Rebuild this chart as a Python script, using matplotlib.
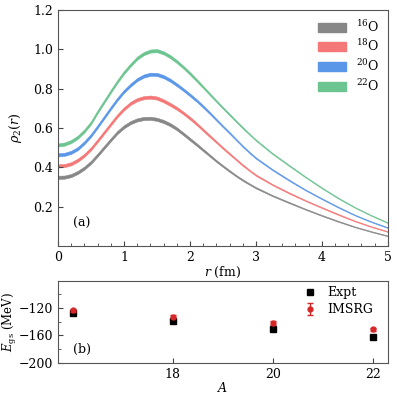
import numpy as np
import matplotlib.pyplot as plt
from matplotlib.patches import Patch
from matplotlib.ticker import MultipleLocator

plt.rcParams['font.family'] = ['DejaVu Serif']
plt.rcParams['mathtext.fontset'] = 'dejavuserif'

# two-body densities rho_2(r)
r = [0.0, 0.1, 0.2, 0.3, 0.4, 0.5, 0.6, 0.7, 0.8, 0.9,
     1.0, 1.1, 1.2, 1.3, 1.4, 1.5, 1.6, 1.7, 1.8, 1.9,
     2.0, 2.1, 2.2, 2.3, 2.4, 2.5, 2.6, 2.7, 2.8, 2.9,
     3.0, 3.25, 3.5, 3.75, 4.0, 4.25, 4.5, 4.75, 5.0]
rho_16 = [0.349, 0.350, 0.358, 0.374, 0.396, 0.425, 0.462, 0.501, 0.540, 0.577,
          0.606, 0.627, 0.641, 0.648, 0.649, 0.644, 0.633, 0.617, 0.596, 0.570,
          0.543, 0.516, 0.488, 0.460, 0.432, 0.406, 0.381, 0.357, 0.335, 0.315,
          0.296, 0.256, 0.221, 0.187, 0.155, 0.125, 0.097, 0.073, 0.051]
rho_18 = [0.407, 0.409, 0.418, 0.436, 0.461, 0.494, 0.535, 0.577, 0.620, 0.662,
          0.697, 0.725, 0.744, 0.754, 0.757, 0.752, 0.738, 0.720, 0.700, 0.676,
          0.650, 0.621, 0.590, 0.559, 0.529, 0.498, 0.469, 0.440, 0.411, 0.385,
          0.360, 0.312, 0.270, 0.231, 0.195, 0.160, 0.127, 0.098, 0.073]
rho_20 = [0.463, 0.466, 0.476, 0.495, 0.525, 0.562, 0.607, 0.654, 0.701, 0.746,
          0.786, 0.818, 0.846, 0.864, 0.873, 0.872, 0.861, 0.843, 0.820, 0.795,
          0.768, 0.740, 0.709, 0.676, 0.642, 0.608, 0.575, 0.541, 0.507, 0.476,
          0.447, 0.388, 0.335, 0.285, 0.240, 0.197, 0.157, 0.123, 0.093]
rho_22 = [0.513, 0.518, 0.531, 0.553, 0.585, 0.626, 0.682, 0.734, 0.786, 0.836,
          0.882, 0.920, 0.955, 0.978, 0.991, 0.993, 0.982, 0.963, 0.938, 0.909,
          0.877, 0.843, 0.808, 0.772, 0.737, 0.702, 0.668, 0.634, 0.601, 0.569,
          0.538, 0.470, 0.410, 0.351, 0.295, 0.243, 0.196, 0.155, 0.118]
band = [0.008] * 18 + [0.0075, 0.007, 0.007, 0.0065, 0.006, 0.0055, 0.005,
                       0.0045, 0.0045, 0.004, 0.004, 0.0035, 0.0035,
                       0.003, 0.003, 0.0025, 0.0025, 0.0025, 0.002, 0.002, 0.002]

labels = [r'$^{16}$O', r'$^{18}$O', r'$^{20}$O', r'$^{22}$O']
colors = ['#878787', '#f47878', '#5b97e8', '#6cc490']

# ground-state energies
A = [16, 18, 20, 22]
e_expt = [-127.6, -139.8, -151.4, -162.0]
e_imsrg = [-123.3, -132.8, -142.0, -151.0]
e_imsrg_err = [2.0, 2.0, 2.2, 2.2]

fig = plt.figure(figsize=(3.97, 3.98), dpi=100)
ax1 = fig.add_axes([0.146, 0.382, 0.831, 0.593])
ax2 = fig.add_axes([0.146, 0.088, 0.831, 0.206])

rr = np.array(r)
bw = np.array(band)
for rho, c in zip([rho_16, rho_18, rho_20, rho_22], colors):
    rho = np.array(rho)
    ax1.fill_between(rr, rho - bw, rho + bw, color=c, lw=0.4, edgecolor=c)

handles = [Patch(facecolor=c, edgecolor=c) for c in colors]
ax1.legend(handles, labels, loc='upper right', frameon=False, fontsize=9,
           handlelength=2.2, handleheight=0.75, labelspacing=0.3,
           borderaxespad=0.3, handletextpad=0.8)

ax1.set_xlim(0, 5)
ax1.set_ylim(0, 1.2)
ax1.set_yticks([0.2, 0.4, 0.6, 0.8, 1.0, 1.2])
ax1.xaxis.set_minor_locator(MultipleLocator(0.2))
ax1.set_xlabel(r'$r$ (fm)', fontsize=9, labelpad=1)
ax1.set_ylabel(r'$\rho_2(r)$', fontsize=9, labelpad=7)
ax1.text(0.045, 0.08, '(a)', transform=ax1.transAxes, fontsize=9)

ax2.plot(A, e_expt, 's', color='black', ms=4.5, label='Expt')
ax2.errorbar(A, e_imsrg, yerr=e_imsrg_err, fmt='o', color='#d62728', ms=3.5,
             capsize=2.5, elinewidth=1, label='IMSRG')
ax2.legend(loc='upper right', bbox_to_anchor=(0.97, 1.0), frameon=False,
           fontsize=9, handlelength=1.2, borderaxespad=0.1, labelspacing=0.35,
           borderpad=0.3)
ax2.set_xlim(15.7, 22.3)
ax2.set_ylim(-200, -81)
ax2.set_xticks([18, 20, 22])
ax2.set_yticks([-200, -160, -120])
ax2.yaxis.set_minor_locator(MultipleLocator(20))
ax2.set_xlabel(r'$A$', fontsize=9, labelpad=0)
ax2.set_ylabel(r'$E_{\rm gs}$ (MeV)', fontsize=8.5, labelpad=0)
ax2.text(0.045, 0.12, '(b)', transform=ax2.transAxes, fontsize=9)

for ax in (ax1, ax2):
    ax.tick_params(which='both', direction='in', labelsize=9, color='#444444')
    ax.tick_params(which='major', length=3.5)
    ax.tick_params(which='minor', length=2)
    for s in ax.spines.values():
        s.set_color('#555555')
        s.set_linewidth(0.8)

fig.savefig('out.png', dpi=100)
